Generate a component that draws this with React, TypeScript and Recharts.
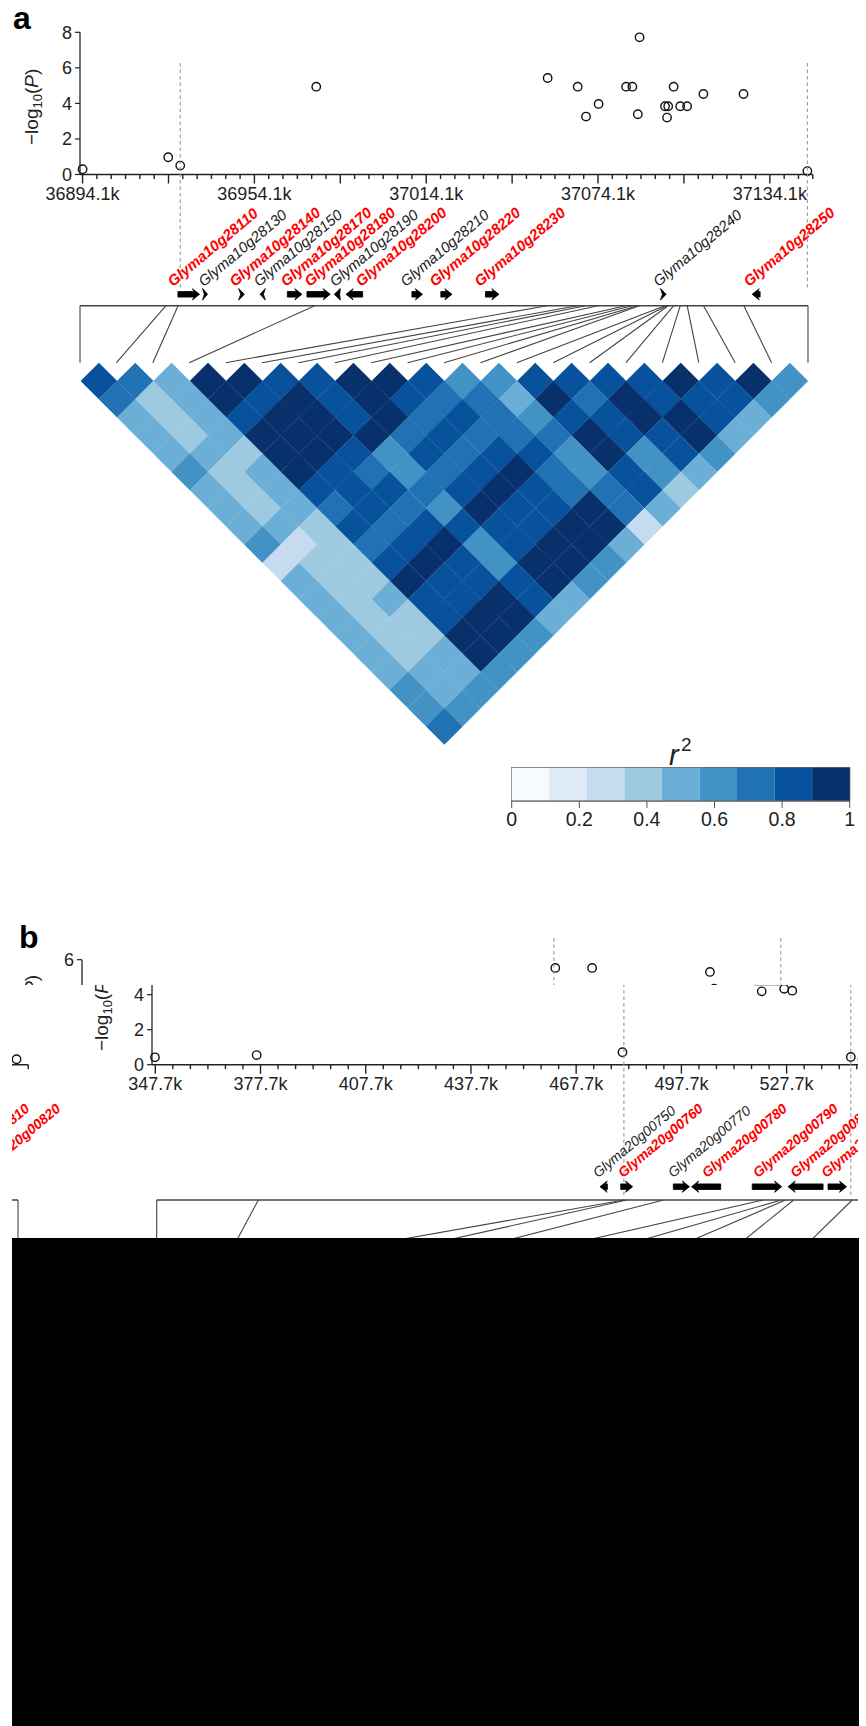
import React from "react";
import {
  Bar,
  BarChart,
  Line,
  LineChart,
  ReferenceArea,
  ReferenceLine,
  Scatter,
  ScatterChart,
  XAxis,
  YAxis,
} from "recharts";

const FONT = "'Liberation Sans', Arial, sans-serif";
const PAGE_W = 950;
const INK = "#222";

// r2 colour bins
const blues = ["#F7FBFF", "#DEEBF7", "#C6DBEF", "#9ECAE1", "#6BAED6", "#4292C6", "#2171B5", "#08519C", "#08306B"];
const r2Ticks = [0, 0.2, 0.4, 0.6, 0.8, 1];

// panel a: SNP positions (kb) and -log10(P)
const snpKbA = [
  36894.1, 36924, 36928.2, 36975.7, 37056.5, 37067, 37069.9, 37074.3, 37083.9, 37086.1, 37088, 37088.6, 37097.5, 37098.2,
  37098.6, 37100.5, 37102.8, 37105.2, 37110.9, 37124.9, 37147.2,
];
const snpLogPA = [0.3, 0.97, 0.5, 4.94, 5.43, 4.94, 3.26, 3.97, 4.94, 4.94, 3.39, 7.72, 3.84, 3.2, 3.84, 4.94, 3.84, 3.84, 4.53, 4.53, 0.19];
const leadKbA = [36928.2, 37147.2];
const yTicksA = [0, 2, 4, 6, 8];

// panel a: genes
const geneNamesA = [
  "Glyma10g28110", "Glyma10g28130", "Glyma10g28140", "Glyma10g28150", "Glyma10g28170", "Glyma10g28180", "Glyma10g28190",
  "Glyma10g28200", "Glyma10g28210", "Glyma10g28220", "Glyma10g28230", "Glyma10g28240", "Glyma10g28250",
];
const geneStartA = [36927.4, 36936, 36948.6, 36956.1, 36965.6, 36972.45, 36982, 36986.1, 37009.1, 37019.2, 37034.8, 37095.9, 37127.9];
const geneEndA = [36934.95, 36937.75, 36950.6, 36957.9, 36970.7, 36980.6, 36984.1, 36991.9, 37012.8, 37023.1, 37039.5, 37097.9, 37130.7];
const geneStrandA = [1, 1, 1, -1, 1, 1, -1, -1, 1, 1, 1, 1, -1];
const geneCandidateA = [1, 0, 1, 0, 1, 1, 0, 1, 0, 1, 1, 0, 1];
const labelPxA = [173, 203.7, 234.7, 259, 286, 309.7, 335, 361, 405.8, 434.7, 479.7, 658.6, 749];

// panel a: LD triangle, one row per SNP distance, colour bin index
const ldBinsA = [
  [7, 6, 4, 8, 8, 7, 7, 8, 8, 7, 5, 5, 7, 7, 7, 7, 8, 7, 8, 5],
  [6, 3, 4, 8, 7, 8, 7, 8, 7, 6, 6, 4, 8, 6, 8, 7, 7, 7, 5],
  [4, 3, 4, 7, 8, 8, 7, 8, 6, 7, 6, 5, 7, 7, 8, 8, 7, 4],
  [4, 3, 4, 8, 8, 8, 8, 6, 7, 6, 6, 6, 8, 7, 7, 8, 4],
  [4, 4, 3, 8, 8, 7, 5, 7, 6, 7, 7, 5, 8, 5, 7, 5],
  [5, 3, 4, 8, 7, 6, 5, 6, 7, 8, 6, 5, 7, 5, 4],
  [4, 3, 4, 7, 7, 7, 6, 7, 8, 7, 6, 6, 7, 3],
  [4, 3, 4, 6, 7, 6, 5, 8, 7, 7, 8, 6, 4],
  [4, 4, 3, 7, 6, 7, 7, 7, 7, 8, 8, 2],
  [5, 2, 3, 6, 7, 8, 5, 7, 8, 8, 4],
  [2, 3, 3, 7, 8, 7, 5, 8, 8, 5],
  [4, 3, 3, 8, 7, 7, 7, 8, 5],
  [4, 3, 4, 7, 7, 8, 7, 4],
  [4, 3, 3, 7, 8, 8, 4],
  [4, 3, 3, 8, 8, 5],
  [4, 3, 4, 8, 5],
  [4, 4, 4, 5],
  [5, 4, 5],
  [5, 5],
  [6],
];

// panel b: SNP positions (kb) and -log10(P)
const snpKbB = [347.6, 376.6, 480.9, 481.7, 492.2, 520.6, 525.8, 527, 529.3, 546, 549.35];
const snpLogPB = [0.42, 0.55, 0.71, 5.53, 5.53, 4.19, 5.3, 4.34, 4.23, 0.44, 0.31];
const leadKbB = [481.3, 546];
const yTicksB = [0, 2, 4, 6];

// panel b: genes
const geneNamesB = [
  "Glyma20g00750", "Glyma20g00760", "Glyma20g00770", "Glyma20g00780", "Glyma20g00790", "Glyma20g00810", "Glyma20g00820",
];
const geneStartB = [474.5, 480.4, 495.4, 500.6, 517.9, 528.1, 539.5];
const geneEndB = [476.6, 483.8, 500, 508.9, 526.3, 538.1, 544.8];
const geneStrandB = [-1, 1, 1, -1, 1, -1, 1];
const geneCandidateB = [0, 1, 0, 1, 1, 1, 1];
const labelPxB = [598, 623, 673, 707, 758, 795.3, 826.3];

const stepTicks = (start: number, count: number) => Array.from({ length: count }, (_, i) => start + i * 5);
const xTicksA = stepTicks(36894.1, 52);
const xTicksB = stepTicks(347.7, 42);

const kbTick = (first: number, labelEvery: number, midEvery: number) => (props: any) => {
  const { x, y, payload } = props;
  const i = Math.round((payload.value - first) / 5);
  const long = i % midEvery === 0;
  return (
    <g>
      <line x1={x} x2={x} y1={y} y2={y + (long ? 9 : 4.5)} stroke={INK} strokeWidth={1.4} />
      {i % labelEvery === 0 && (
        <text x={x} y={y + 25} textAnchor="middle" fontSize={18} fontFamily={FONT} fill={INK}>
          {payload.value.toFixed(1)}k
        </text>
      )}
    </g>
  );
};

const openCircle = (p: any) => <circle cx={p.cx} cy={p.cy} r={4.2} fill="none" stroke="#111" strokeWidth={1.4} />;

function YLabel({ x, y, letter }: { x: number; y: number; letter: string }) {
  return (
    <text transform={`rotate(-90 ${x} ${y})`} x={x} y={y} fontSize={19} fontFamily={FONT} fill={INK}>
      −log
      <tspan fontSize={13} dy={4}>10</tspan>
      <tspan dy={-4}>(</tspan>
      <tspan fontStyle="italic">{letter}</tspan>)
    </text>
  );
}

function PValues({ data, xDomain, yDomain, yTicks, xTicks, tick, left, right, top, bottom, children }: any) {
  return (
    <ScatterChart
      width={PAGE_W}
      height={bottom + 40}
      margin={{ left: left - 40, right: PAGE_W - right, top, bottom: 0 }}
      style={{ position: "absolute", left: 0, top: 0 }}
    >
      <XAxis
        type="number"
        dataKey="kb"
        domain={xDomain}
        ticks={xTicks}
        interval={0}
        height={40}
        tick={tick}
        tickLine={false}
        tickSize={0}
        tickMargin={0}
        axisLine={{ stroke: INK, strokeWidth: 1.6 }}
      />
      <YAxis
        type="number"
        dataKey="logP"
        domain={yDomain}
        ticks={yTicks}
        interval={0}
        width={40}
        tickSize={5}
        tickMargin={3}
        tickLine={{ stroke: INK, strokeWidth: 1.2 }}
        axisLine={{ stroke: INK, strokeWidth: 1.3 }}
        tick={{ fontSize: 18, fontFamily: FONT, fill: INK }}
      />
      <Scatter data={data} isAnimationActive={false} shape={openCircle} />
      {children}
    </ScatterChart>
  );
}

function GeneTrack({ starts, ends, strands, names, candidates, labelPx, leadKb, xDomain, left, right, top, bottom, geneY, dashEnd, fontSize, labelLift }: any) {
  const pxPerKb = (right - left) / (xDomain[1] - xDomain[0]);
  const genes = names.map((name: string, i: number) => ({
    name,
    mid: (starts[i] + ends[i]) / 2,
    len: ends[i] - starts[i],
    strand: strands[i],
    candidate: candidates[i],
    labelX: labelPx[i],
    level: geneY,
  }));
  const drawGene = (p: any) => {
    const g = p.payload;
    const w = g.len * pxPerKb;
    const head = Math.min(5.5, w);
    const tip = g.strand * (w / 2);
    const neck = tip - g.strand * head;
    const tail = -tip;
    const points =
      w < 6.5
        ? [[tail, -5.8], [tip, 0], [tail, 5.8], [tail + g.strand * w * (w < 5.8 ? 0.35 : 0.1), 0]]
        : [[tail, -2.8], [neck, -2.8], [neck - g.strand * 1.6, -5.6], [tip, 0], [neck - g.strand * 1.6, 5.6], [neck, 2.8], [tail, 2.8]];
    const labelY = p.cy - labelLift;
    return (
      <g>
        <polygon
          points={points.map(([a, b]) => `${p.cx + a},${p.cy + b}`).join(" ")}
          fill="#000"
          stroke="#000"
          strokeWidth={0.8}
          strokeLinejoin="round"
        />
        <text
          transform={`rotate(-40 ${g.labelX} ${labelY})`}
          x={g.labelX}
          y={labelY}
          fontSize={fontSize}
          fontFamily={FONT}
          fontStyle="italic"
          fontWeight={g.candidate ? 700 : 400}
          fill={g.candidate ? "#ff0000" : INK}
        >
          {g.name}
        </text>
      </g>
    );
  };
  return (
    <ScatterChart
      width={PAGE_W}
      height={bottom + 20}
      margin={{ left, right: PAGE_W - right, top, bottom: 20 }}
      style={{ position: "absolute", left: 0, top: 0 }}
    >
      <XAxis hide type="number" dataKey="mid" domain={xDomain} />
      <YAxis hide type="number" dataKey="level" domain={[0, 1]} />
      {leadKb.map((kb: number) => (
        <ReferenceLine key={kb} segment={[{ x: kb, y: 1 }, { x: kb, y: dashEnd }]} stroke="#999" strokeWidth={1.1} strokeDasharray="3.5 3" />
      ))}
      <Scatter data={genes} isAnimationActive={false} shape={drawGene} />
    </ScatterChart>
  );
}

function Connectors({ snpKb, left, right, top, bottom }: any) {
  const first = snpKb[0];
  const last = snpKb[snpKb.length - 1];
  const edge = [{ kb: first, y: 1 }, { kb: last, y: 1 }];
  return (
    <LineChart
      width={PAGE_W}
      height={bottom + 2}
      margin={{ left, right: PAGE_W - right, top, bottom: 2 }}
      style={{ position: "absolute", left: 0, top: 0 }}
    >
      <XAxis hide type="number" dataKey="kb" domain={[first, last]} />
      <YAxis hide type="number" dataKey="y" domain={[0, 1]} />
      <Line data={edge} dataKey="y" stroke="#444" strokeWidth={1.4} dot={false} isAnimationActive={false} />
      {snpKb.map((kb: number, i: number) => (
        <Line
          key={i}
          data={[{ kb, y: 1 }, { kb: first + ((last - first) * i) / (snpKb.length - 1), y: 0 }]}
          dataKey="y"
          stroke="#444"
          strokeWidth={1.1}
          dot={false}
          isAnimationActive={false}
        />
      ))}
    </LineChart>
  );
}

function LdTriangle() {
  const cells = ldBinsA.flatMap((row, r) => row.map((bin, k) => ({ pos: k + r / 2, dist: r, bin })));
  const half = 727.3 / 20 / 2 + 0.12;
  const drawCell = (p: any) => {
    const { cx, cy } = p;
    return (
      <polygon
        points={`${cx},${cy - half} ${cx + half},${cy} ${cx},${cy + half} ${cx - half},${cy}`}
        fill={blues[p.payload.bin]}
      />
    );
  };
  return (
    <ScatterChart
      width={PAGE_W}
      height={760}
      margin={{ left: 80.7, right: PAGE_W - 808, top: 362.8, bottom: 760 - 744.6 }}
      style={{ position: "absolute", left: 0, top: 0 }}
    >
      <XAxis hide type="number" dataKey="pos" domain={[-0.5, 19.5]} />
      <YAxis hide type="number" dataKey="dist" domain={[-1, 20]} reversed />
      <Scatter data={cells} isAnimationActive={false} shape={drawCell} />
    </ScatterChart>
  );
}

function ColourBar() {
  const row: Record<string, any> = { name: "r2" };
  blues.forEach((_, i) => (row[`b${i}`] = 1 / blues.length));
  return (
    <BarChart
      layout="vertical"
      width={PAGE_W}
      height={840}
      data={[row]}
      barCategoryGap={0}
      margin={{ left: 511.7, right: PAGE_W - 849.7, top: 767.7, bottom: 0 }}
      style={{ position: "absolute", left: 0, top: 0 }}
    >
      <XAxis
        type="number"
        domain={[0, 1]}
        ticks={r2Ticks}
        interval={0}
        height={39}
        tickSize={7}
        tickMargin={4}
        tickLine={{ stroke: "#555" }}
        axisLine={{ stroke: "#555" }}
        tick={{ fontSize: 19.5, fontFamily: FONT, fill: INK }}
      />
      <YAxis hide type="category" dataKey="name" />
      {blues.map((c, i) => (
        <Bar key={c} dataKey={`b${i}`} stackId="r2" fill={c} isAnimationActive={false} />
      ))}
      <ReferenceArea x1={0} x2={1} fill="none" stroke="#666" strokeWidth={1.2} />
      <text x={669} y={765} fontSize={29} fontStyle="italic" fontFamily={FONT} fill={INK}>r</text>
      <text x={681} y={750.7} fontSize={19} fontFamily={FONT} fill={INK}>2</text>
    </BarChart>
  );
}

function Clip({ x, y, w, h, dx = 0, children }: any) {
  return (
    <div style={{ position: "absolute", left: x, top: y, width: w, height: h, overflow: "hidden" }}>
      <div style={{ position: "absolute", left: dx - x, top: -y, width: PAGE_W, height: 1300 }}>{children}</div>
    </div>
  );
}

function PanelB() {
  const data = snpKbB.map((kb, i) => ({ kb, logP: snpLogPB[i] }));
  return (
    <>
      <PValues
        data={data}
        xDomain={[346.76, 552.7]}
        yDomain={[0, 6]}
        yTicks={yTicksB}
        xTicks={xTicksB}
        tick={kbTick(347.7, 6, 6)}
        left={152}
        right={874.3}
        top={959.7}
        bottom={1064.7}
      >
        <YLabel x={108} y={1051} letter="P" />
      </PValues>
      <GeneTrack
        starts={geneStartB}
        ends={geneEndB}
        strands={geneStrandB}
        names={geneNamesB}
        candidates={geneCandidateB}
        labelPx={labelPxB}
        leadKb={leadKbB}
        xDomain={[346.76, 552.7]}
        left={152}
        right={874.3}
        top={938}
        bottom={1197}
        geneY={0.0398}
        dashEnd={0}
        fontSize={14}
        labelLift={8.5}
      />
      <Connectors snpKb={snpKbB} left={156.7} right={864} top={1200} bottom={1257.6} />
    </>
  );
}

export default function App() {
  const dataA = snpKbA.map((kb, i) => ({ kb, logP: snpLogPA[i] }));
  return (
    <div style={{ position: "absolute", left: 0, top: 0, width: 866, height: 1726, background: "#fff", overflow: "hidden", fontFamily: FONT }}>
      <div style={{ position: "absolute", left: 13, top: 2, fontSize: 32, lineHeight: "32px", fontWeight: 700 }}>a</div>
      <PValues
        data={dataA}
        xDomain={[36893.2, 37149.1]}
        yDomain={[0, 8]}
        yTicks={yTicksA}
        xTicks={xTicksA}
        tick={kbTick(36894.1, 12, 6)}
        left={80}
        right={812.8}
        top={32.3}
        bottom={174.5}
      >
        <YLabel x={38} y={145} letter="P" />
      </PValues>
      <GeneTrack
        starts={geneStartA}
        ends={geneEndA}
        strands={geneStrandA}
        names={geneNamesA}
        candidates={geneCandidateA}
        labelPx={labelPxA}
        leadKb={leadKbA}
        xDomain={[36893.2, 37149.1]}
        left={80}
        right={812.8}
        top={63}
        bottom={300}
        geneY={0.024}
        dashEnd={0.042}
        fontSize={15}
        labelLift={7}
      />
      <Connectors snpKb={snpKbA} left={80} right={808} top={305.7} bottom={362.7} />
      <LdTriangle />
      <ColourBar />

      <div style={{ position: "absolute", left: 19, top: 921, fontSize: 32, lineHeight: "32px", fontWeight: 700 }}>b</div>
      <Clip x={12} y={930} w={846} h={55} dx={-70}>
        <PanelB />
      </Clip>
      <Clip x={12} y={985} w={846} h={253}>
        <PanelB />
      </Clip>
      <Clip x={12} y={985} w={846} h={253} dx={-846}>
        <PanelB />
      </Clip>
      <div style={{ position: "absolute", left: 754, top: 985, width: 27, height: 1, background: "#bbb" }} />
      <div style={{ position: "absolute", left: 12, top: 1238, width: 847, height: 488, background: "#000" }} />
    </div>
  );
}
